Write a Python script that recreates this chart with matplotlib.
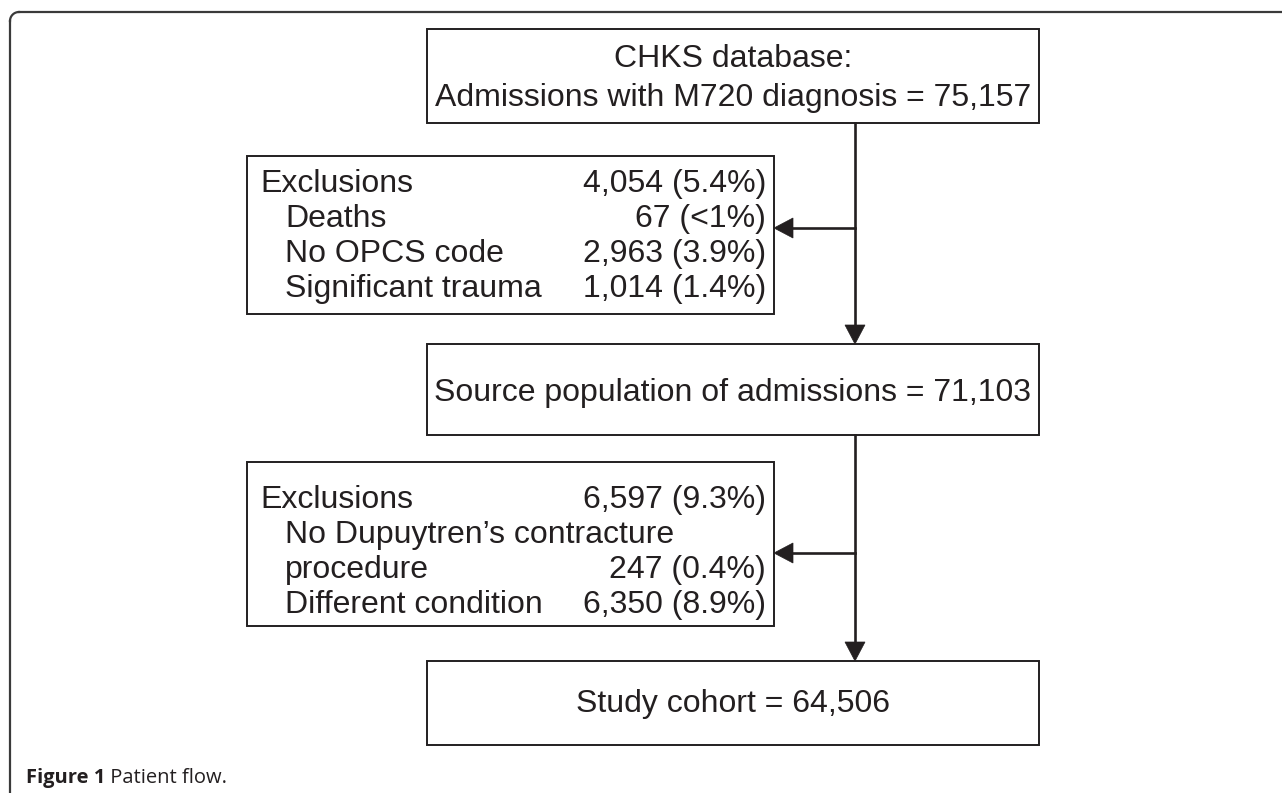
import matplotlib
matplotlib.use("Agg")
import matplotlib.pyplot as plt
from matplotlib.patches import Rectangle, Polygon
from matplotlib.lines import Line2D
import numpy as np

# ---------------- data ----------------
stage_labels = ["CHKS database:\nAdmissions with M720 diagnosis", "Source population of admissions", "Study cohort"]
stage_counts = [75157, 71103, 64506]

excl1_labels = ["Exclusions", "Deaths", "No OPCS code", "Significant trauma"]
excl1_values = ["4,054 (5.4%)", "67 (<1%)", "2,963 (3.9%)", "1,014 (1.4%)"]

excl2_labels = ["Exclusions", "No Dupuytren\u2019s contracture", "procedure", "Different condition"]
excl2_values = ["6,597 (9.3%)", "", "247 (0.4%)", "6,350 (8.9%)"]

caption_bold = "Figure 1"
caption_text = " Patient flow."

# ---------------- layout ----------------
W, H = 1282, 793
fig = plt.figure(figsize=(W / 100, H / 100), dpi=100)
ax = fig.add_axes([0, 0, 1, 1])
ax.set_xlim(0, W)
ax.set_ylim(H, 0)
ax.axis("off")

FONT = "Liberation Sans"
TC = "#231f20"
LC = "#231f20"
FS = 23

# outer frame (top + left with rounded corner)
r = 9
fx, fy = 10, 12
FC = "#3a3a3a"
ax.add_line(Line2D([fx + r, W + 5], [fy, fy], color=FC, lw=1.6))
ax.add_line(Line2D([fx, fx], [fy + r, H + 5], color=FC, lw=1.6))
th = np.linspace(np.pi, 1.5 * np.pi, 20)
ax.add_line(Line2D(fx + r + r * np.cos(th), fy + r + r * np.sin(th), color=FC, lw=1.6))

def box(x0, y0, x1, y1):
    ax.add_patch(Rectangle((x0, y0), x1 - x0, y1 - y0, fill=False, ec=LC, lw=1.4))

# main boxes
mx0, mx1 = 427, 1039
mcx = (mx0 + mx1) / 2
main_boxes = [(29, 123), (344, 435), (661, 745)]
for (y0, y1) in main_boxes:
    box(mx0, y0, mx1, y1)

l1, l2 = stage_labels[0].split("\n")
ax.text(mcx, 67, l1, ha="center", va="baseline", fontsize=FS, family=FONT, color=TC)
ax.text(mcx, 106, f"{l2} = {stage_counts[0]:,}", ha="center", va="baseline", fontsize=FS, family=FONT, color=TC)
ax.text(mcx, 401, f"{stage_labels[1]} = {stage_counts[1]:,}", ha="center", va="baseline", fontsize=FS, family=FONT, color=TC)
ax.text(mcx, 712, f"{stage_labels[2]} = {stage_counts[2]:,}", ha="center", va="baseline", fontsize=FS, family=FONT, color=TC)

# exclusion boxes
ex0, ex1 = 247, 774
def excl_box(y0, y1, base0, labels, values):
    box(ex0, y0, ex1, y1)
    for i, (lab, val) in enumerate(zip(labels, values)):
        yb = base0 + 35 * i
        xl = 260 if i == 0 else 285
        ax.text(xl, yb, lab, ha="left", va="baseline", fontsize=FS, family=FONT, color=TC)
        if val:
            ax.text(766, yb, val, ha="right", va="baseline", fontsize=FS, family=FONT, color=TC)

excl_box(156, 314, 192, excl1_labels, excl1_values)
excl_box(462, 626, 508, excl2_labels, excl2_values)

# arrows
AX = 855
ALW = 1.9
def arrow_down(y0, y1):
    ax.add_line(Line2D([AX, AX], [y0, y1 - 18], color=LC, lw=ALW))
    ax.add_patch(Polygon([[AX - 10, y1 - 19], [AX + 10, y1 - 19], [AX, y1]], closed=True, fc=LC, ec=LC, lw=0.5))

def arrow_left(y):
    ax.add_line(Line2D([AX, ex1 + 18], [y, y], color=LC, lw=ALW))
    ax.add_patch(Polygon([[ex1 + 19, y - 10], [ex1 + 19, y + 10], [ex1, y]], closed=True, fc=LC, ec=LC, lw=0.5))

arrow_down(main_boxes[0][1], main_boxes[1][0])
arrow_down(main_boxes[1][1], main_boxes[2][0])
arrow_left(228)
arrow_left(553)

# caption
CFS = 14.5
t = ax.text(26, 783, caption_bold, ha="left", va="baseline", fontsize=CFS, family="Open Sans", weight="bold", color=TC)
fig.canvas.draw()
bb = t.get_window_extent()
x_end = ax.transData.inverted().transform((bb.x1, bb.y0))[0]
ax.text(x_end, 783, caption_text, ha="left", va="baseline", fontsize=CFS, family="Open Sans", color=TC)

fig.savefig("out.png", dpi=100)
